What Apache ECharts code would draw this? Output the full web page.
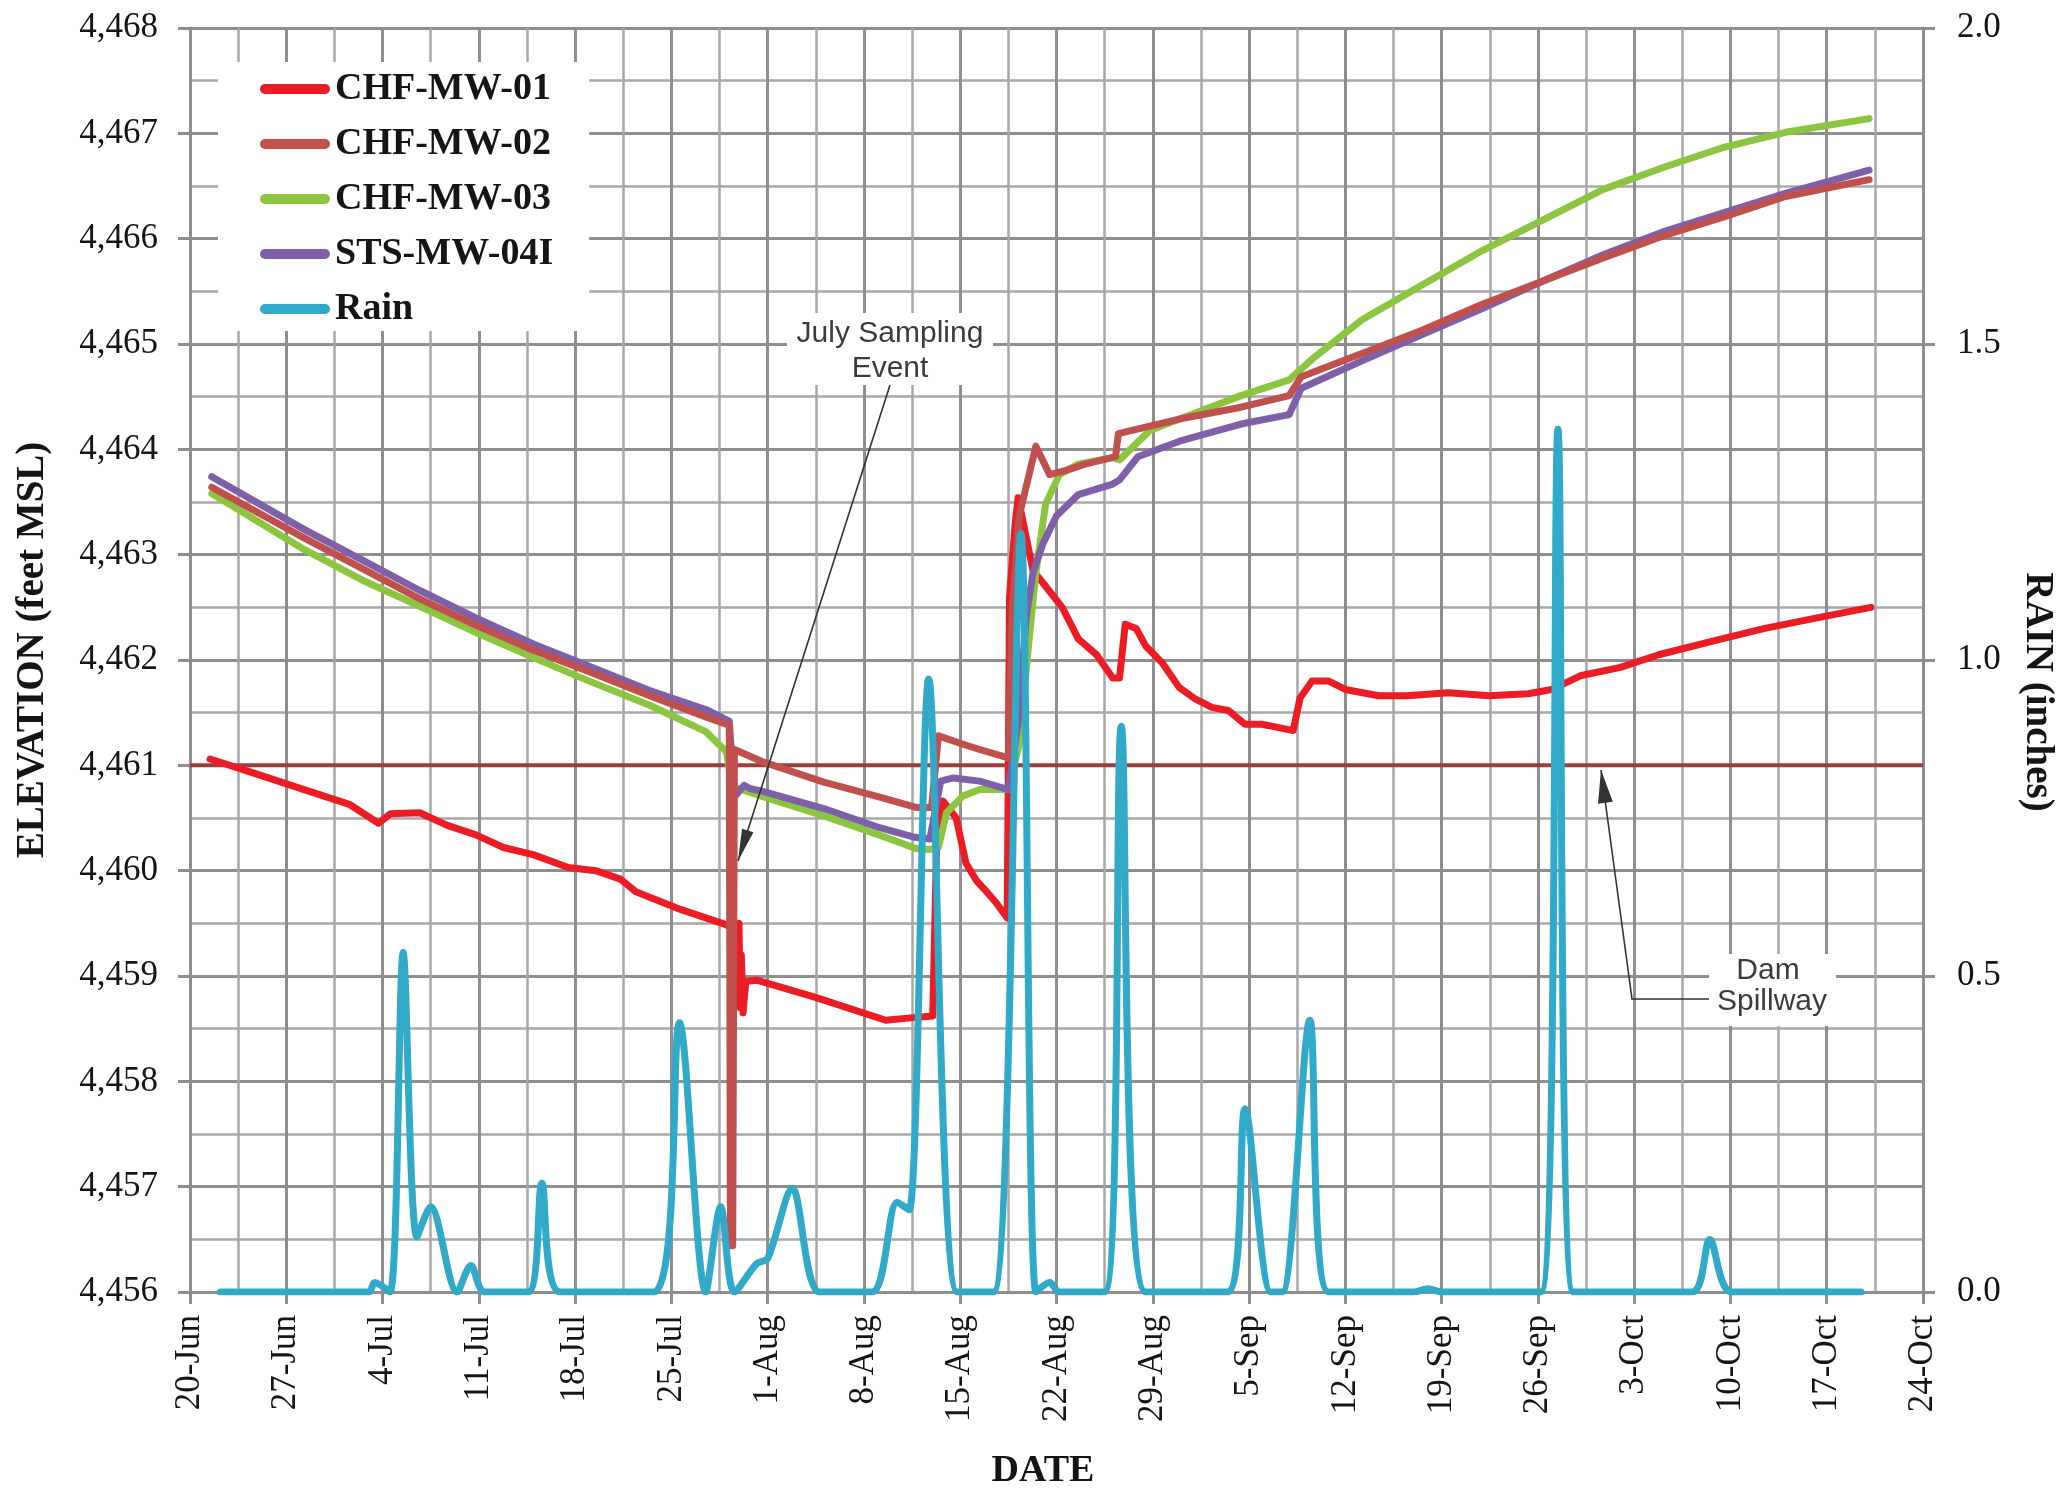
<!DOCTYPE html>
<html>
<head>
<meta charset="utf-8">
<script src="https://cdn.jsdelivr.net/npm/echarts@6/dist/echarts.min.js"></script>
<style>
  html, body { margin: 0; padding: 0; background: #ffffff; }
  #chart { width: 2067px; height: 1496px; }
</style>
</head>
<body>
<div id="chart"></div>
<script>
// ---------------- DATA ----------------
const YEAR = 2011;
const AXIS_START = '06-20 00';
const AXIS_END = '10-24 00';
const TICK_DAYS = 7;
const MONTHS = ['Jan','Feb','Mar','Apr','May','Jun','Jul','Aug','Sep','Oct','Nov','Dec'];
const ELEV_MIN = 4456, ELEV_MAX = 4468, ELEV_STEP = 1;
const RAIN_MIN = 0, RAIN_MAX = 2, RAIN_STEP = 0.5;
const SPILLWAY = 4461;
const SERIES_NAMES = ['CHF-MW-01', 'CHF-MW-02', 'CHF-MW-03', 'STS-MW-04I', 'Rain'];

const CHF_MW_01 = [
  ['06-21 11', 4461.06], ['06-24 02', 4460.95], ['06-28 07', 4460.77], ['07-01 14', 4460.63],
  ['07-03 17', 4460.45], ['07-04 14', 4460.54], ['07-06 17', 4460.55], ['07-08 17', 4460.43],
  ['07-10 19', 4460.34], ['07-12 19', 4460.22], ['07-15 00', 4460.15], ['07-17 12', 4460.03],
  ['07-19 12', 4460.00], ['07-21 07', 4459.92], ['07-22 10', 4459.80], ['07-25 17', 4459.63],
  ['07-28 22', 4459.49], ['07-29 10', 4459.45], ['07-29 22', 4459.50], ['07-30 00', 4458.70],
  ['07-30 02', 4459.20], ['07-30 05', 4458.65], ['07-30 10', 4458.95], ['07-31 05', 4458.96],
  ['08-04 10', 4458.80], ['08-09 14', 4458.58], ['08-11 05', 4458.60], ['08-13 00', 4458.62],
  ['08-13 07', 4460.30], ['08-13 18', 4460.66], ['08-14 17', 4460.50], ['08-15 10', 4460.07],
  ['08-16 05', 4459.90], ['08-16 22', 4459.80], ['08-17 14', 4459.70], ['08-18 10', 4459.55],
  ['08-18 14', 4462.60], ['08-19 00', 4463.30], ['08-19 05', 4463.54], ['08-19 14', 4463.30],
  ['08-20 07', 4462.85], ['08-21 05', 4462.70], ['08-22 10', 4462.50], ['08-23 14', 4462.20],
  ['08-24 22', 4462.05], ['08-26 02', 4461.83], ['08-26 14', 4461.83], ['08-27 00', 4462.34],
  ['08-27 19', 4462.30], ['08-28 12', 4462.13], ['08-29 17', 4461.97], ['08-30 22', 4461.74],
  ['09-01 02', 4461.63], ['09-02 07', 4461.55], ['09-03 12', 4461.52], ['09-04 17', 4461.39],
  ['09-05 22', 4461.39], ['09-07 02', 4461.36], ['09-08 05', 4461.33], ['09-08 17', 4461.64],
  ['09-09 14', 4461.80], ['09-10 19', 4461.80], ['09-12 00', 4461.72], ['09-14 10', 4461.66],
  ['09-16 12', 4461.66], ['09-19 12', 4461.69], ['09-22 10', 4461.66], ['09-25 07', 4461.68],
  ['09-27 00', 4461.72], ['09-29 02', 4461.85], ['10-02 00', 4461.93], ['10-04 19', 4462.05],
  ['10-08 17', 4462.18], ['10-12 12', 4462.30], ['10-16 07', 4462.40], ['10-20 05', 4462.50]
];

const CHF_MW_02 = [
  ['06-21 14', 4463.64], ['06-28 07', 4463.16], ['07-02 12', 4462.87], ['07-06 17', 4462.58],
  ['07-10 19', 4462.33], ['07-15 00', 4462.09], ['07-19 05', 4461.88], ['07-23 10', 4461.66],
  ['07-27 12', 4461.46], ['07-29 05', 4461.38], ['07-29 07', 4456.44], ['07-29 11', 4456.44],
  ['07-29 14', 4461.15], ['07-31 17', 4461.03], ['08-05 02', 4460.84], ['08-09 02', 4460.70],
  ['08-11 19', 4460.60], ['08-12 22', 4460.60], ['08-13 10', 4461.28], ['08-15 05', 4461.20],
  ['08-16 10', 4461.15], ['08-18 12', 4461.07], ['08-18 19', 4462.50], ['08-19 07', 4463.37],
  ['08-20 12', 4464.03], ['08-21 12', 4463.76], ['08-22 17', 4463.80], ['08-24 02', 4463.86],
  ['08-26 07', 4463.93], ['08-26 12', 4464.15], ['08-31 00', 4464.29], ['09-04 10', 4464.40],
  ['09-07 22', 4464.51], ['09-08 19', 4464.69], ['09-13 05', 4464.91], ['09-17 14', 4465.13],
  ['09-22 00', 4465.38], ['09-26 10', 4465.60], ['09-30 19', 4465.82], ['10-05 05', 4466.03],
  ['10-09 14', 4466.21], ['10-14 00', 4466.40], ['10-20 02', 4466.56]
];

const CHF_MW_03 = [
  ['06-21 14', 4463.58], ['06-28 07', 4463.05], ['07-02 12', 4462.76], ['07-06 17', 4462.51],
  ['07-10 19', 4462.26], ['07-15 00', 4462.02], ['07-19 05', 4461.79], ['07-23 10', 4461.57],
  ['07-27 12', 4461.32], ['07-29 00', 4461.13], ['07-29 10', 4460.80], ['07-31 17', 4460.70],
  ['08-05 02', 4460.52], ['08-09 02', 4460.34], ['08-11 19', 4460.21], ['08-12 17', 4460.20],
  ['08-13 10', 4460.22], ['08-14 00', 4460.55], ['08-15 05', 4460.71], ['08-16 10', 4460.77],
  ['08-18 12', 4460.77], ['08-19 07', 4461.20], ['08-20 00', 4462.18], ['08-20 12', 4462.83],
  ['08-21 05', 4463.48], ['08-22 05', 4463.76], ['08-23 14', 4463.86], ['08-26 02', 4463.92],
  ['08-26 14', 4463.90], ['08-28 19', 4464.18], ['08-31 00', 4464.29], ['09-04 10', 4464.51],
  ['09-07 22', 4464.66], ['09-09 17', 4464.87], ['09-13 05', 4465.23], ['09-17 14', 4465.56],
  ['09-22 00', 4465.89], ['09-26 10', 4466.18], ['09-30 19', 4466.47], ['10-05 05', 4466.68],
  ['10-09 14', 4466.87], ['10-14 00', 4467.01], ['10-20 02', 4467.14]
];

const STS_MW_04I = [
  ['06-21 14', 4463.74], ['06-28 07', 4463.24], ['07-02 12', 4462.95], ['07-06 17', 4462.66],
  ['07-10 19', 4462.40], ['07-15 00', 4462.15], ['07-19 05', 4461.93], ['07-23 10', 4461.71],
  ['07-27 12', 4461.53], ['07-29 05', 4461.42], ['07-29 14', 4460.70], ['07-30 07', 4460.81],
  ['07-30 17', 4460.78], ['07-31 17', 4460.75], ['08-05 02', 4460.59], ['08-09 02', 4460.41],
  ['08-11 14', 4460.32], ['08-12 19', 4460.30], ['08-13 14', 4460.85], ['08-14 12', 4460.88],
  ['08-16 10', 4460.85], ['08-18 12', 4460.77], ['08-19 05', 4461.40], ['08-19 19', 4462.40],
  ['08-20 07', 4462.83], ['08-21 00', 4463.10], ['08-22 00', 4463.37], ['08-23 14', 4463.57],
  ['08-26 02', 4463.67], ['08-26 14', 4463.71], ['08-27 22', 4463.93], ['08-31 00', 4464.08],
  ['09-04 10', 4464.24], ['09-07 22', 4464.33], ['09-08 19', 4464.58], ['09-13 05', 4464.84],
  ['09-17 14', 4465.09], ['09-22 00', 4465.34], ['09-26 10', 4465.60], ['09-30 19', 4465.85],
  ['10-05 05', 4466.07], ['10-09 14', 4466.25], ['10-14 00', 4466.43], ['10-20 02', 4466.65]
];

const RAIN = [
  ['06-22 05', 0], ['07-03 00', 0], ['07-03 10', 0.015], ['07-04 13', 0], ['07-05 12', 0.537],
  ['07-06 12', 0.087], ['07-07 12', 0.135], ['07-09 10', 0], ['07-10 10', 0.042], ['07-11 10', 0],
  ['07-14 14', 0], ['07-15 14', 0.172], ['07-16 22', 0], ['07-23 17', 0], ['07-25 14', 0.426],
  ['07-27 12', 0], ['07-28 14', 0.135], ['07-29 14', 0], ['07-31 05', 0.045], ['08-01 00', 0.053],
  ['08-02 19', 0.164], ['08-04 19', 0], ['08-08 14', 0], ['08-10 10', 0.142], ['08-11 07', 0.13],
  ['08-12 17', 0.97], ['08-14 19', 0], ['08-17 10', 0], ['08-19 10', 1.2], ['08-20 12', 0],
  ['08-21 12', 0.015], ['08-22 05', 0], ['08-25 12', 0], ['08-26 17', 0.895], ['08-28 12', 0],
  ['09-03 10', 0], ['09-04 17', 0.29], ['09-06 14', 0], ['09-07 10', 0], ['09-09 10', 0.43],
  ['09-10 19', 0], ['09-17 00', 0], ['09-18 00', 0.005], ['09-19 00', 0], ['09-26 05', 0],
  ['09-27 11', 1.365], ['09-28 14', 0], ['10-07 05', 0], ['10-08 12', 0.083], ['10-10 02', 0],
  ['10-19 12', 0]
];

// ---------------- STYLE ----------------
const COLORS = {
  'CHF-MW-01': '#ec1c24',
  'CHF-MW-02': '#c0504d',
  'CHF-MW-03': '#8cc540',
  'STS-MW-04I': '#7f60a8',
  'Rain': '#31a9c8',
  spill: '#9e3d3d',
  grid: '#8e8e8e',
  gridMinor: '#a8a8a8',
  text: '#151515',
  note: '#3c3c3c'
};
const SERIF = '"Liberation Serif", "Times New Roman", serif';
const SANS = '"Liberation Sans", Arial, sans-serif';

function toTime(s) {
  const parts = s.split(' ');
  const md = parts[0].split('-').map(Number);
  return Date.UTC(YEAR, md[0] - 1, md[1], Number(parts[1] || 0));
}
const pts = arr => arr.map(p => [toTime(p[0]), p[1]]);
const DAY = 86400000;

function lineSeries(name, data, yIdx, extra) {
  const c = COLORS[name];
  return Object.assign({
    name: name, type: 'line', data: pts(data), yAxisIndex: yIdx,
    showSymbol: false, symbol: 'none', animation: false,
    itemStyle: { color: c },
    lineStyle: { color: c, width: 7, cap: 'round', join: 'round' }
  }, extra || {});
}

function arrow(x1, y1, x2, y2, headLen, headW) {
  const dx = x2 - x1, dy = y2 - y1, L = Math.sqrt(dx * dx + dy * dy);
  const ux = dx / L, uy = dy / L, bx = x2 - ux * headLen, by = y2 - uy * headLen;
  return {
    type: 'polygon', z: 100, silent: true,
    shape: { points: [[x2, y2], [bx - uy * headW / 2, by + ux * headW / 2], [bx + uy * headW / 2, by - ux * headW / 2]] },
    style: { fill: '#333333' }
  };
}

const chart = echarts.init(document.getElementById('chart'), null, { renderer: 'canvas' });

const tickLabel = { fontFamily: SERIF, fontSize: 35, color: COLORS.text };
const axisLineStyle = { color: COLORS.grid, width: 3 };

const option = {
  animation: false,
  backgroundColor: '#ffffff',
  grid: { left: 190, right: 144, top: 28, bottom: 204, containLabel: false },
  legend: {
    data: SERIES_NAMES,
    orient: 'vertical',
    left: 218, top: 62,
    padding: [7, 36, 2, 42],
    itemGap: 15,
    itemWidth: 70, itemHeight: 11,
    icon: 'path://M5,0 H65 A5,5 0 0 1 65,10 H5 A5,5 0 0 1 5,0 Z',
    backgroundColor: '#ffffff',
    textStyle: { fontFamily: SERIF, fontSize: 38, fontWeight: 'bold', color: COLORS.text, lineHeight: 40 }
  },
  xAxis: {
    type: 'value',
    min: toTime(AXIS_START), max: toTime(AXIS_END), interval: TICK_DAYS * DAY,
    axisLine: { show: true, lineStyle: axisLineStyle },
    axisTick: { show: true, length: 12, lineStyle: axisLineStyle },
    axisLabel: Object.assign({
      rotate: 90, margin: 23,
      formatter: v => { const d = new Date(v); return d.getUTCDate() + '-' + MONTHS[d.getUTCMonth()]; }
    }, tickLabel),
    splitLine: { show: true, lineStyle: { color: COLORS.grid, width: 3 } },
    minorTick: { show: false, splitNumber: 2 },
    minorSplitLine: { show: true, lineStyle: { color: COLORS.gridMinor, width: 2.5 } }
  },
  yAxis: [
    {
      type: 'value', min: ELEV_MIN, max: ELEV_MAX, interval: ELEV_STEP,
      axisLine: { show: true, lineStyle: axisLineStyle },
      axisTick: { show: true, length: 12, lineStyle: axisLineStyle },
      axisLabel: Object.assign({
        margin: 32,
        formatter: v => String(v).replace(/\B(?=(\d{3})+(?!\d))/g, ',')
      }, tickLabel),
      splitLine: { show: true, lineStyle: { color: COLORS.grid, width: 3 } },
      minorTick: { show: false, splitNumber: 2 },
      minorSplitLine: { show: true, lineStyle: { color: COLORS.gridMinor, width: 2.5 } }
    },
    {
      type: 'value', min: RAIN_MIN, max: RAIN_MAX, interval: RAIN_STEP, position: 'right',
      axisLine: { show: true, lineStyle: axisLineStyle },
      axisTick: { show: true, length: 12, lineStyle: axisLineStyle },
      axisLabel: Object.assign({ margin: 34, formatter: v => v.toFixed(1) }, tickLabel),
      splitLine: { show: false }
    }
  ],
  series: [
    {
      name: 'Dam Spillway', type: 'line', yAxisIndex: 0,
      data: [[toTime(AXIS_START), SPILLWAY], [toTime(AXIS_END), SPILLWAY]],
      showSymbol: false, symbol: 'none', silent: true,
      lineStyle: { color: COLORS.spill, width: 4 }, itemStyle: { color: COLORS.spill }
    },
    lineSeries('CHF-MW-01', CHF_MW_01, 0),
    lineSeries('CHF-MW-03', CHF_MW_03, 0),
    lineSeries('STS-MW-04I', STS_MW_04I, 0),
    lineSeries('CHF-MW-02', CHF_MW_02, 0),
    lineSeries('Rain', RAIN, 1, { smooth: 0.3 })
  ],
  graphic: [
    // axis titles
    { type: 'text', x: 33, y: 650, rotation: Math.PI / 2, z: 100, silent: true,
      style: { text: 'ELEVATION (feet MSL)', font: 'bold 39px ' + SERIF, fill: COLORS.text, align: 'center', verticalAlign: 'middle' } },
    { type: 'text', x: 2037, y: 692, rotation: -Math.PI / 2, z: 100, silent: true,
      style: { text: 'RAIN (inches)', font: 'bold 39px ' + SERIF, fill: COLORS.text, align: 'center', verticalAlign: 'middle' } },
    { type: 'text', x: 1043, y: 1471, z: 100, silent: true,
      style: { text: 'DATE', font: 'bold 38px ' + SERIF, fill: COLORS.text, align: 'center', verticalAlign: 'middle' } },
    // July Sampling Event annotation
    { type: 'rect', z: 99, silent: true, shape: { x: 787, y: 313, width: 206, height: 72 }, style: { fill: '#ffffff' } },
    { type: 'text', x: 890, y: 334, z: 100, silent: true,
      style: { text: 'July Sampling', font: '30px ' + SANS, fill: COLORS.note, align: 'center', verticalAlign: 'middle' } },
    { type: 'text', x: 890, y: 369, z: 100, silent: true,
      style: { text: 'Event', font: '30px ' + SANS, fill: COLORS.note, align: 'center', verticalAlign: 'middle' } },
    { type: 'line', z: 100, silent: true, shape: { x1: 890, y1: 385, x2: 738, y2: 861 }, style: { stroke: '#333333', lineWidth: 1.6 } },
    arrow(890, 385, 738, 861, 32, 12),
    // Dam Spillway annotation
    { type: 'rect', z: 99, silent: true, shape: { x: 1709, y: 954, width: 127, height: 72 }, style: { fill: '#ffffff' } },
    { type: 'text', x: 1768, y: 971, z: 100, silent: true,
      style: { text: 'Dam', font: '30px ' + SANS, fill: COLORS.note, align: 'center', verticalAlign: 'middle' } },
    { type: 'text', x: 1772, y: 1002, z: 100, silent: true,
      style: { text: 'Spillway', font: '30px ' + SANS, fill: COLORS.note, align: 'center', verticalAlign: 'middle' } },
    { type: 'polyline', z: 100, silent: true, shape: { points: [[1709, 999], [1632, 999], [1601, 770]] },
      style: { stroke: '#333333', lineWidth: 1.6, fill: null } },
    arrow(1632, 999, 1601, 770, 33, 15)
  ]
};

chart.setOption(option);
</script>
</body>
</html>
